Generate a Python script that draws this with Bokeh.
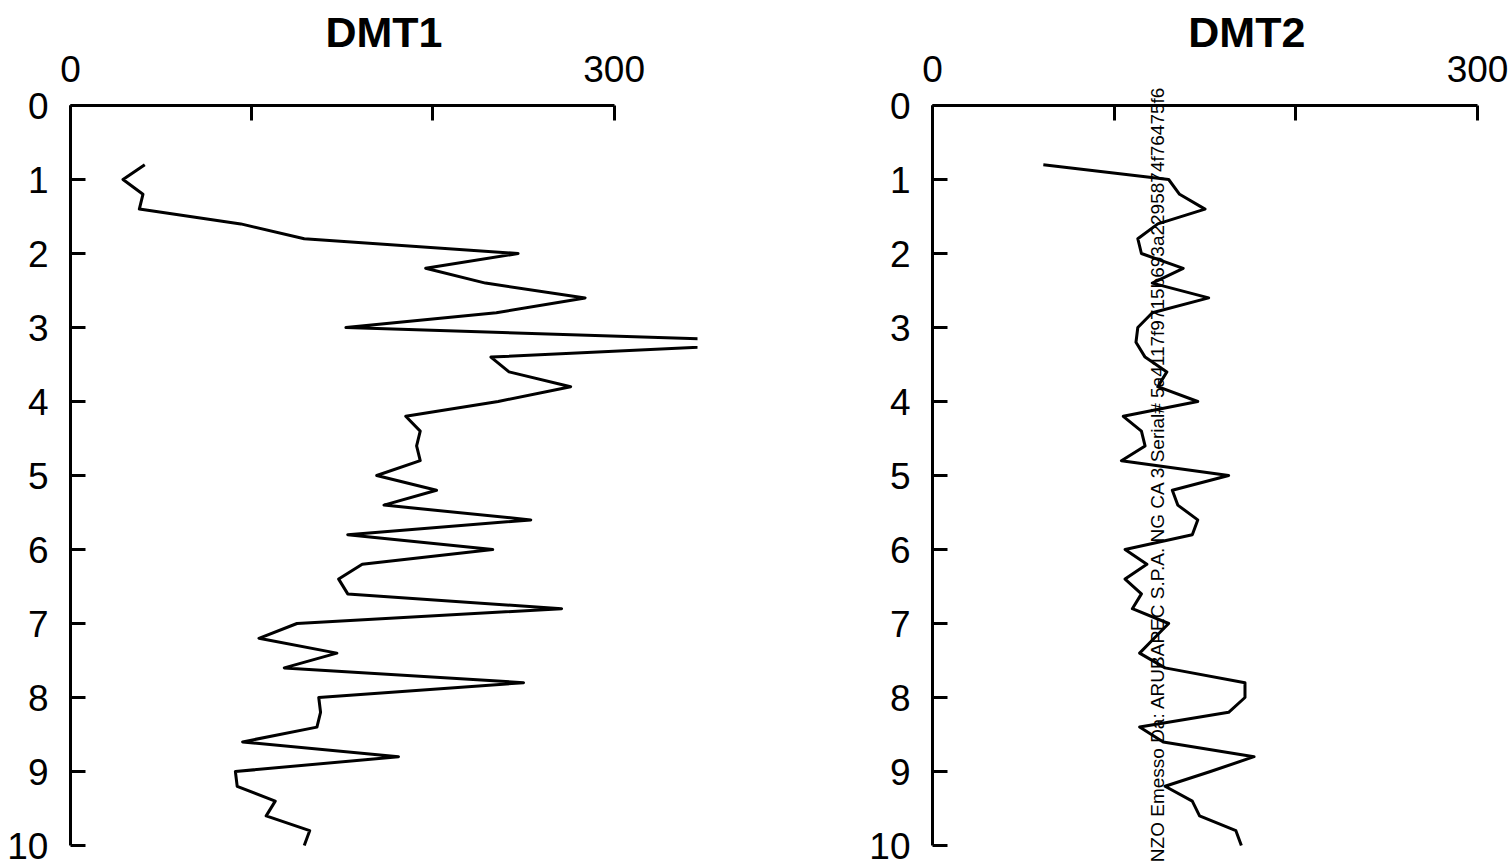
import numpy as np
from bokeh.plotting import figure
from bokeh.layouts import row
from bokeh.models import Range1d, LinearAxis, FixedTicker, Label
from bokeh.embed import file_html
from bokeh.resources import INLINE

# ---- data ----
depth = [0.8, 1.0, 1.2, 1.4, 1.6, 1.8, 2.0, 2.2, 2.4, 2.6, 2.8, 3.0, 3.2, 3.4,
         3.6, 3.8, 4.0, 4.2, 4.4, 4.6, 4.8, 5.0, 5.2, 5.4, 5.6, 5.8, 6.0, 6.2,
         6.4, 6.6, 6.8, 7.0, 7.2, 7.4, 7.6, 7.8, 8.0, 8.2, 8.4, 8.6, 8.8, 9.0,
         9.2, 9.4, 9.6, 9.8, 10.0]

dmt1 = [41, 29, 40, 38, 94, 129, 247, 196, 229, 284, 235, 152, 405, 232,
        242, 276, 236, 185, 193, 191, 193, 169, 202, 173, 254, 153, 233, 161,
        148, 153, 271, 125, 104, 147, 118, 250, 137, 138, 136, 95, 181, 91,
        92, 113, 108, 132, 129]

dmt2 = [61, 130, 136, 150, 124, 113, 115, 138, 121, 152, 121, 113, 112, 117,
        129, 124, 146, 105, 115, 117, 104, 163, 132, 135, 146, 143, 106, 118,
        106, 115, 110, 130, 122, 114, 128, 172, 172, 163, 114, 127, 177, 153,
        128, 143, 147, 167, 170]

x_ticks = [0, 100, 200, 300]
x_tick_labels = {0: "0", 100: "", 200: "", 300: "300"}
y_ticks = [0, 1, 2, 3, 4, 5, 6, 7, 8, 9, 10]
titles = ["DMT1", "DMT2"]
watermark = "NZO Emesso Da: ARUBAPEC S.P.A. NG CA 3 Serial# 5a4117f9715b693a2295874f76475f6"

FONT = "Liberation Sans"
PX_PER_DEPTH = 74.0          # vertical scale of the panels
TOP_PX, BOTTOM_PX = 105, 17  # depth 0 sits 105 px from top, depth 10 17 px above bottom


def make_panel(title, values, left_px, frame_width, border_right, x_end, px_per_unit):
    y_top = -TOP_PX / PX_PER_DEPTH
    y_bottom = 10 + BOTTOM_PX / PX_PER_DEPTH
    x_start = -left_px / px_per_unit
    p = figure(frame_width=frame_width, frame_height=862,
               min_border_left=0, min_border_right=border_right,
               min_border_top=0, min_border_bottom=0,
               x_range=Range1d(x_start, x_end), y_range=Range1d(y_bottom, y_top),
               x_axis_location=None, y_axis_location=None,
               toolbar_location=None, output_backend="svg",
               background_fill_color="white", border_fill_color="white",
               outline_line_color=None, title=None)
    p.grid.visible = False

    # depth axis, fixed at value 0
    ya = LinearAxis(ticker=FixedTicker(ticks=y_ticks), bounds=(0, 10),
                    fixed_location=0,
                    major_tick_in=15, major_tick_out=0,
                    minor_tick_in=0, minor_tick_out=0,
                    axis_line_width=3, axis_line_color="black",
                    major_tick_line_width=3, major_tick_line_color="black",
                    major_label_text_font=FONT,
                    major_label_text_font_size="37px",
                    major_label_text_color="black",
                    major_label_standoff=22)
    p.add_layout(ya, "left")

    # value axis on top, fixed at depth 0
    xa = LinearAxis(ticker=FixedTicker(ticks=x_ticks), bounds=(0, 300),
                    fixed_location=0,
                    major_label_overrides=x_tick_labels,
                    major_tick_in=15, major_tick_out=0,
                    minor_tick_in=0, minor_tick_out=0,
                    axis_line_width=3, axis_line_color="black",
                    major_tick_line_width=3, major_tick_line_color="black",
                    major_label_text_font=FONT,
                    major_label_text_font_size="37px",
                    major_label_text_color="black",
                    major_label_standoff=24)
    p.add_layout(xa, "above")

    # panel title centred over the plotting region
    p.add_layout(Label(x=173, y=(31 - TOP_PX) / PX_PER_DEPTH, text=title,
                       text_align="center", text_baseline="middle",
                       text_font=FONT, text_font_size="43px",
                       text_font_style="bold", text_color="black"))

    p.line(x=values, y=depth, line_width=3, line_color="black",
           line_join="round")
    return p


p1 = make_panel(titles[0], dmt1, 70, 697, 103, 346, 544 / 300)
p2 = make_panel(titles[1], dmt2, 132, 711, 0, 318.7, 545 / 300)

wm = Label(x=124.1, y=(85 - TOP_PX) / PX_PER_DEPTH,
           text=watermark, angle=np.pi / 2,
           text_align="right", text_baseline="middle",
           text_font="Liberation Sans", text_font_size="19px",
           text_color="black")
p2.add_layout(wm)

layout = row(p1, p2, spacing=0)
open("out.html", "w").write(file_html(layout, INLINE))
